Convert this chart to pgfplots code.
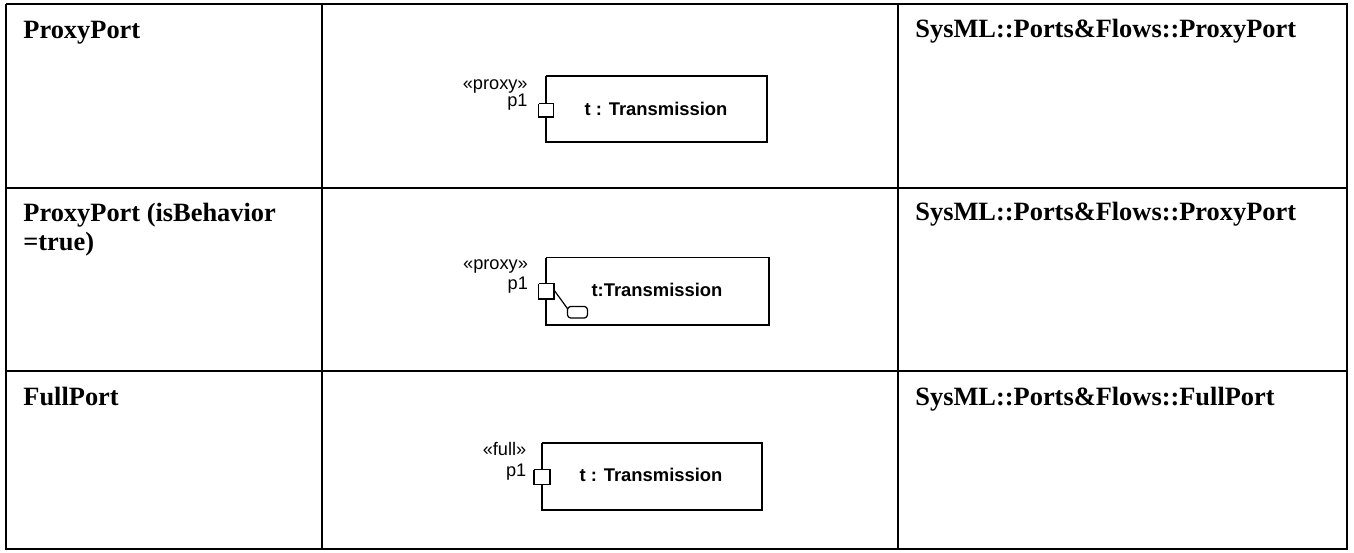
\documentclass[border=0pt]{standalone}
\usepackage{pgfplots}
\pgfplotsset{compat=1.18}
\usepackage{fontspec}
\setmainfont{Liberation Serif}
\newfontfamily\arial{Liberation Sans}
\begin{document}
\begin{tikzpicture}
\begin{axis}[
  scale only axis, width=677pt, height=276pt,
  xmin=0, xmax=1354, ymin=0, ymax=552, y dir=reverse,
  hide axis, clip=false,
]
% bounding
\addplot[draw=none] coordinates {(0,0) (1354,552)};
% table grid
\addplot[black, line width=1.3pt, line join=miter] coordinates {(6,4) (1347,4) (1347,549) (6,549) (6,4)};
\addplot[black, line width=1.3pt] coordinates {(6,188) (1347,188)};
\addplot[black, line width=1.3pt] coordinates {(6,371) (1347,371)};
\addplot[black, line width=1.3pt] coordinates {(322,4) (322,549)};
\addplot[black, line width=1.3pt] coordinates {(898,4) (898,549)};
% row 1 diagram
\addplot[black, line width=0.6pt, line join=miter] coordinates {(546,76) (767,76) (767,142) (546,142) (546,76)};
\addplot[black, fill=white, line width=0.6pt, line join=miter] coordinates {(538.5,103.5) (553.5,103.5) (553.5,117) (538.5,117) (538.5,103.5)};
% row 2 diagram
\addplot[black, line width=0.6pt, line join=miter] coordinates {(546,257.5) (769,257.5) (769,325) (546,325) (546,257.5)};
\addplot[black, line width=0.6pt] coordinates {(554,290) (568.5,310)};
\addplot[black, fill=white, line width=0.6pt, line join=miter] coordinates {(538.5,283.5) (554,283.5) (554,299) (538.5,299) (538.5,283.5)};
\addplot[black, fill=white, line width=0.6pt] coordinates {(570.5,306.5) (584.5,306.5) (586.5,307.5) (587.5,309.5) (587.5,315) (586.5,317) (584.5,318) (570.5,318) (568.5,317) (567.5,315) (567.5,309.5) (568.5,307.5) (570.5,306.5)};
% row 3 diagram
\addplot[black, line width=0.6pt, line join=miter] coordinates {(542,443) (762,443) (762,510) (542,510) (542,443)};
\addplot[black, fill=white, line width=0.6pt, line join=miter] coordinates {(534,469.5) (550,469.5) (550,484.5) (534,484.5) (534,469.5)};
% left column text
\node[anchor=base west, inner sep=0pt] at (axis cs:23,38.5) {\fontsize{13.2}{15}\selectfont\bfseries ProxyPort};
\node[anchor=base west, inner sep=0pt] at (axis cs:23,221.5) {\fontsize{13.2}{15}\selectfont\bfseries ProxyPort (isBehavior};
\node[anchor=base west, inner sep=0pt] at (axis cs:23,250.5) {\fontsize{13.2}{15}\selectfont\bfseries =true)};
\node[anchor=base west, inner sep=0pt] at (axis cs:23,405) {\fontsize{13.2}{15}\selectfont\bfseries FullPort};
% right column text
\node[anchor=base west, inner sep=0pt] at (axis cs:915,37.5) {\fontsize{13.2}{15}\selectfont\bfseries SysML::Ports\&Flows::ProxyPort};
\node[anchor=base west, inner sep=0pt] at (axis cs:915,220.5) {\fontsize{13.2}{15}\selectfont\bfseries SysML::Ports\&Flows::ProxyPort};
\node[anchor=base west, inner sep=0pt] at (axis cs:915,405) {\fontsize{13.2}{15}\selectfont\bfseries SysML::Ports\&Flows::FullPort};
% diagram texts
\node[anchor=base, inner sep=0pt] at (axis cs:656,115) {\arial\fontsize{9.2}{11}\selectfont\bfseries t : Transmission};
\node[anchor=base east, inner sep=0pt] at (axis cs:528,89) {\arial\fontsize{9.1}{11}\selectfont «proxy»};
\node[anchor=base east, inner sep=0pt] at (axis cs:528,106.7) {\arial\fontsize{9.1}{11}\selectfont p1};
\node[anchor=base, inner sep=0pt] at (axis cs:657,296.7) {\arial\fontsize{9.2}{11}\selectfont\bfseries t:Transmission};
\node[anchor=base east, inner sep=0pt] at (axis cs:528.3,269.3) {\arial\fontsize{9.1}{11}\selectfont «proxy»};
\node[anchor=base east, inner sep=0pt] at (axis cs:528.3,289.3) {\arial\fontsize{9.1}{11}\selectfont p1};
\node[anchor=base, inner sep=0pt] at (axis cs:651,481.7) {\arial\fontsize{9.2}{11}\selectfont\bfseries t : Transmission};
\node[anchor=base east, inner sep=0pt] at (axis cs:526.7,455) {\arial\fontsize{9.1}{11}\selectfont «full»};
\node[anchor=base east, inner sep=0pt] at (axis cs:526.7,476) {\arial\fontsize{9.1}{11}\selectfont p1};
\end{axis}
\end{tikzpicture}
\end{document}
